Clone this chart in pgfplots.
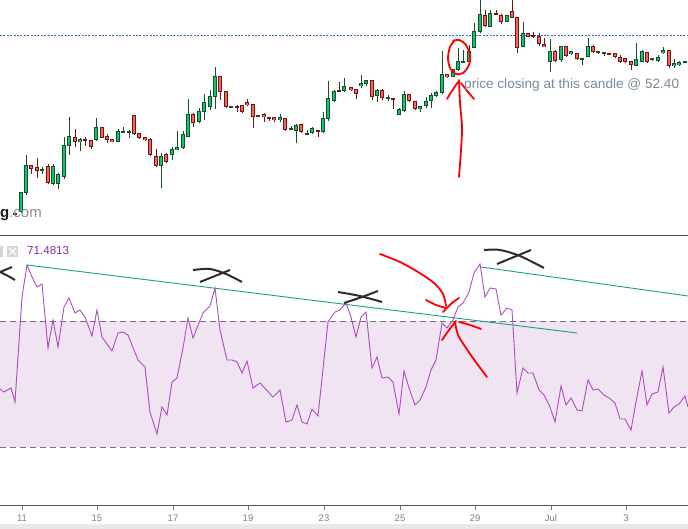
\documentclass[border=0pt]{standalone}
\usepackage{fontspec}
\setmainfont{Liberation Sans}
\usepackage{pgfplots}
\usepackage{pgfplotstable}
\pgfplotsset{compat=1.18}

\definecolor{upfill}{RGB}{8,200,110}
\definecolor{upline}{RGB}{22,78,42}
\definecolor{dnfill}{RGB}{250,100,88}
\definecolor{dnline}{RGB}{112,22,22}
\definecolor{rsiline}{RGB}{172,78,190}
\definecolor{rsiband}{RGB}{240,227,242}
\definecolor{tline}{RGB}{22,160,132}
\definecolor{pblue}{RGB}{60,95,215}
\definecolor{annred}{RGB}{255,0,0}
\definecolor{anndark}{RGB}{45,45,45}
\definecolor{txtgray}{RGB}{122,136,152}
\definecolor{rsitxt}{RGB}{142,40,160}

% candles: x = pixel column, o h l c = pixel rows (down = lower price)
\pgfplotstableread{
x o h l c
21 212 192 213 193
26 193 155 195 166
42 170.5 167 174 170
53 184 164 185 167
58 184 173 189 175
64 177 137 179 146
69 146 117 155 137
80 142 138 151 140
96 140 118 141 128
118 142 129 142 132
123 132 127 133 132
129 132 130 138 132
161 166 153 188 157
172 155 147 160 150
177 150 131 150 148
183 148 131 149 135
188 137 99 137 115
199 122 108 123 112
204 112 94 120 103
210 107 90 110 97
215 97 67 109 77
231 107 107 107 107
258 116 116 117 116
280 120 114 122 118
291 129 126 130 129
296 131 124 143 126
307 134 130 135 134
312 133 127 134 129
323 132 112 133 119
328 119 81 121 99
334 101 90 102 92
344 91 78 92 87
361 86 75 88 84
366 84 80 86 81
377 96 89 102 91
388 98 95 101 98
399 115 108 115 110
404 111 91 112 95
420 109 106 112 107
426 106 97 108 102
431 101 93 108 96
436 96 91 97 93
442 93 51 94 75
453 77 69 77 70
458 70 48 71 62
463 62 50 63 62
469 62 45 63 52
474 48 23 48 32
480 32 -5 33 15
490 27 10 27 14
507 22 15 22 16
523 47 22 47 34
550 62 39 72 52
561 60 47 62 47
571 54 52 55 52
582 59 59 65 59
588 57 38 57 47
598 53 51 54 52
604 53 52 56 53
636 66 43 66 60
642 62 50 62 52
652 60 58 61 59
658 61 55 62 58
663 53 47 54 51
674 66 59 68 64
679 65 61 66 63
685 62 61 63 62
}\upT

\pgfplotstableread{
x o h l c
15 214 213 215 214
31 166 165 174 169
37 168 158 178 171
48 167 164 184 183
75 138 129 147 142
85 140 137 146 141
91 141 140 149 147
102 128 127 138 138
107 137 134 143 140
112 140 140 142 142
134 116 116 135 134
139 134 134 139 138
145 138 137 141 140
150 140 138 156 155
156 157 149 167 166
166 155 153 163 162
193 115 113 127 123
220 77 77 100 92
226 92 91 108 107
237 107 105 112 107
242 106 105 113 112
247 103 99 106 105
253 105 105 128 117
264 115 113 122 117
269 118 117 121 118
274 118 117 122 120
285 119 119 131 130
301 125 125 133 132
318 131 130 137 131
339 91 82 91 91
351 88 88 91 90
356 90 89 99 94
372 81 81 100 97
382 91 89 100 98
393 99 99 109 99
409 95 95 102 101
415 102 102 110 109
447 75 75 78 77
485 16 10 27 26
496 14 10 15 14
501 16 14 24 22
512 12 -3 18 18
517 18 18 53 48
528 34 33 37 37
533 36 32 38 37
539 37 33 46 44
544 45 38 47 47
555 52 50 62 61
566 47 46 57 56
577 54 53 60 59
593 47 45 53 52
609 54 53 55 54
615 54 53 58 57
620 58 55 63 62
625 59 58 63 62
631 62 61 70 65
647 53 52 63 62
669 51 51 68 66
}\dnT

% RSI (pixel rows)
\pgfplotstableread{
x py
0 389
4 392
11 388
15 402
22 297
27 265
32 277
37 287
42 284
48 348
53 320
58 347
64 307
69 298
75 313
80 310
85 317
92 336
97 310
102 337
112 351
118 333
123 332
128 335
138 360
145 367
150 412
157 434
162 407
167 415
172 382
177 378
183 348
188 318
193 338
203 313
210 306
215 288
220 330
227 360
232 360
237 362
242 373
247 361
253 388
260 383
273 397
280 390
286 422
292 420
297 405
302 422
307 424
312 409
318 416
328 322
335 312
340 310
346 303
351 317
356 337
361 317
366 312
372 368
377 357
382 378
388 377
393 382
399 414
404 371
409 388
415 405
420 400
426 387
431 370
436 360
442 323
447 328
453 320
458 307
463 303
469 292
474 273
480 264
485 297
490 288
496 289
501 315
507 308
512 310
517 393
523 368
528 373
533 373
539 390
544 395
550 407
555 422
561 386
566 405
571 398
577 410
582 411
588 380
593 390
598 389
604 395
609 398
615 403
620 419
625 419
631 430
636 402
642 371
647 405
652 394
658 392
663 367
669 413
674 407
679 404
685 396
688 407
}\rsiT

\pgfplotsset{
  cwick/.style={draw=none, mark=none, forget plot,
    error bars/y dir=both, error bars/y explicit, error bars/error mark=none,
    error bars/error bar style={draw=#1, line width=1pt, solid}},
  cbody/.style 2 args={draw=none, mark=none, forget plot,
    error bars/y dir=both, error bars/y explicit, error bars/error mark=none,
    error bars/error bar style={draw=#1, line width=#2, solid}},
}

\begin{document}
\begin{tikzpicture}
\useasboundingbox (0,-23pt) rectangle (688pt,506pt);
\fill[black!9] (0,-23pt) rectangle (688pt,-18pt);
\begin{axis}[
  at={(0,0)}, anchor=south west,
  width=688pt, height=506pt, scale only axis,
  xmin=0, xmax=688, ymin=-506, ymax=0,
  axis x line*=bottom, axis y line=none,
  x axis line style={draw=black!65, line width=1pt},
  xtick={22,97,173,248,324,400,475,551,626},
  xticklabels={11,15,17,19,23,25,29,Jul,3},
  tick align=outside, major tick length=4pt,
  xtick style={draw=black!55, line width=0.8pt},
  xticklabel style={font=\fontsize{9.5}{10}\selectfont, text=black!50, yshift=-1.5pt},
  ytick=\empty,
  clip=true,
]
% ---------- price panel ----------
\addplot[pblue, line width=0.9pt, dash pattern=on 2pt off 1.4pt, forget plot] coordinates {(0,-35) (688,-35)};

\addplot[cwick=upline] table[x=x, y expr={-\thisrow{o}}, y error plus expr={\thisrow{o}-\thisrow{h}}, y error minus expr={\thisrow{l}-\thisrow{o}}] {\upT};
\addplot[cwick=dnline] table[x=x, y expr={-\thisrow{o}}, y error plus expr={\thisrow{o}-\thisrow{h}}, y error minus expr={\thisrow{l}-\thisrow{o}}] {\dnT};
\addplot[cbody={upline}{4.6pt}] table[x=x, y expr={-(\thisrow{o}+\thisrow{c})/2}, y error expr={abs(\thisrow{o}-\thisrow{c})/2+0.5}] {\upT};
\addplot[cbody={upfill}{2.6pt}] table[x=x, y expr={-(\thisrow{o}+\thisrow{c})/2}, y error expr={max(abs(\thisrow{o}-\thisrow{c})/2-0.5,0)}] {\upT};
\addplot[cbody={dnline}{4.6pt}] table[x=x, y expr={-(\thisrow{o}+\thisrow{c})/2}, y error expr={abs(\thisrow{o}-\thisrow{c})/2+0.5}] {\dnT};
\addplot[cbody={dnfill}{2.6pt}] table[x=x, y expr={-(\thisrow{o}+\thisrow{c})/2}, y error expr={max(abs(\thisrow{o}-\thisrow{c})/2-0.5,0)}] {\dnT};

% panel separator
\addplot[black!70, line width=1.3pt, forget plot] coordinates {(0,-235.5) (688,-235.5)};

% red annotations in the price panel
\addplot[annred, line width=1.8pt, smooth, line cap=round] coordinates {(455,-40) (450,-47) (448,-58) (450,-68) (456,-74) (463,-73) (469,-65) (470,-55) (466,-45) (459,-40) (453,-41)};
\addplot[annred, line width=1.8pt, smooth, line cap=round] coordinates {(459,-177) (461,-150) (462,-127) (460,-103) (459,-80)};
\addplot[annred, line width=1.8pt, smooth, line cap=round] coordinates {(447,-99) (452,-91) (458,-82)};
\addplot[annred, line width=1.8pt, smooth, line cap=round] coordinates {(474,-99) (468,-92) (461,-83)};

% ---------- RSI panel ----------
\addplot[draw=none, fill=rsiband, forget plot] coordinates {(0,-321) (688,-321) (688,-447) (0,-447)};
\addplot[black!55, line width=0.8pt, dash pattern=on 6pt off 4pt, forget plot] coordinates {(0,-321) (688,-321)};
\addplot[black!55, line width=0.8pt, dash pattern=on 6pt off 4pt, forget plot] coordinates {(0,-447) (688,-447)};

\addplot[tline, line width=0.9pt] coordinates {(27,-265) (577,-333)};
\addplot[tline, line width=0.9pt] coordinates {(481,-267) (688,-296)};

\addplot[rsiline, line width=0.9pt] table[x=x, y expr={-\thisrow{py}}] {\rsiT};

% black marks
\addplot[anndark, line width=2pt, smooth] coordinates {(12,-267) (5,-270) (0,-272)};
\addplot[anndark, line width=2pt, smooth] coordinates {(0,-272) (8,-276) (15,-280)};
\addplot[anndark, line width=2pt, smooth] coordinates {(193,-270) (210,-269) (226,-274) (242,-282)};
\addplot[anndark, line width=2pt, smooth] coordinates {(200,-282) (215,-276) (230,-270)};
\addplot[anndark, line width=2pt, smooth] coordinates {(338,-292) (360,-296) (382,-302)};
\addplot[anndark, line width=2pt, smooth] coordinates {(344,-303) (362,-297) (378,-291)};
\addplot[anndark, line width=2pt, smooth] coordinates {(484,-250) (500,-250) (520,-256) (544,-268)};
\addplot[anndark, line width=2pt, smooth] coordinates {(497,-264) (514,-257) (531,-250)};

% red arrows in RSI panel
\addplot[annred, line width=1.8pt, smooth, line cap=round] coordinates {(380,-254) (400,-262) (418,-272) (434,-283) (443,-294) (446,-306)};
\addplot[annred, line width=1.8pt, smooth, line cap=round] coordinates {(426,-300) (436,-305) (446,-308)};
\addplot[annred, line width=1.8pt, smooth, line cap=round] coordinates {(459,-298) (452,-303) (443,-312)};
\addplot[annred, line width=1.8pt, smooth, line cap=round] coordinates {(487,-377) (475,-361) (466,-348) (458,-335) (455,-322)};
\addplot[annred, line width=1.8pt, smooth, line cap=round] coordinates {(442,-340) (449,-330) (456,-321)};
\addplot[annred, line width=1.8pt, smooth, line cap=round] coordinates {(481,-329) (470,-325) (459,-322)};

% legend icons of the RSI panel
\addplot[draw=none, fill=black!16] coordinates {(0,-246) (3,-246) (3,-257) (0,-257)};
\addplot[draw=none, fill=black!16] coordinates {(7,-246) (18,-246) (18,-257) (7,-257)};
\addplot[white, line width=1.2pt] coordinates {(9,-248) (16,-255)};
\addplot[white, line width=1.2pt] coordinates {(16,-248) (9,-255)};

% texts
\node[anchor=base west, inner sep=0pt, font=\fontsize{13.6}{14}\selectfont, text=txtgray] at (axis cs:464,-89) {price closing at this candle @ 52.40};
\node[anchor=base west, inner sep=0pt, font=\fontsize{11.6}{12}\selectfont, text=rsitxt] at (axis cs:27,-255) {71.4813};
\node[anchor=base east, inner sep=0pt, font=\fontsize{15}{16}\selectfont] at (axis cs:42,-218) {\textcolor{black!90}{\bfseries g}\textcolor{black!45}{.com}};
\end{axis}
\end{tikzpicture}
\end{document}
